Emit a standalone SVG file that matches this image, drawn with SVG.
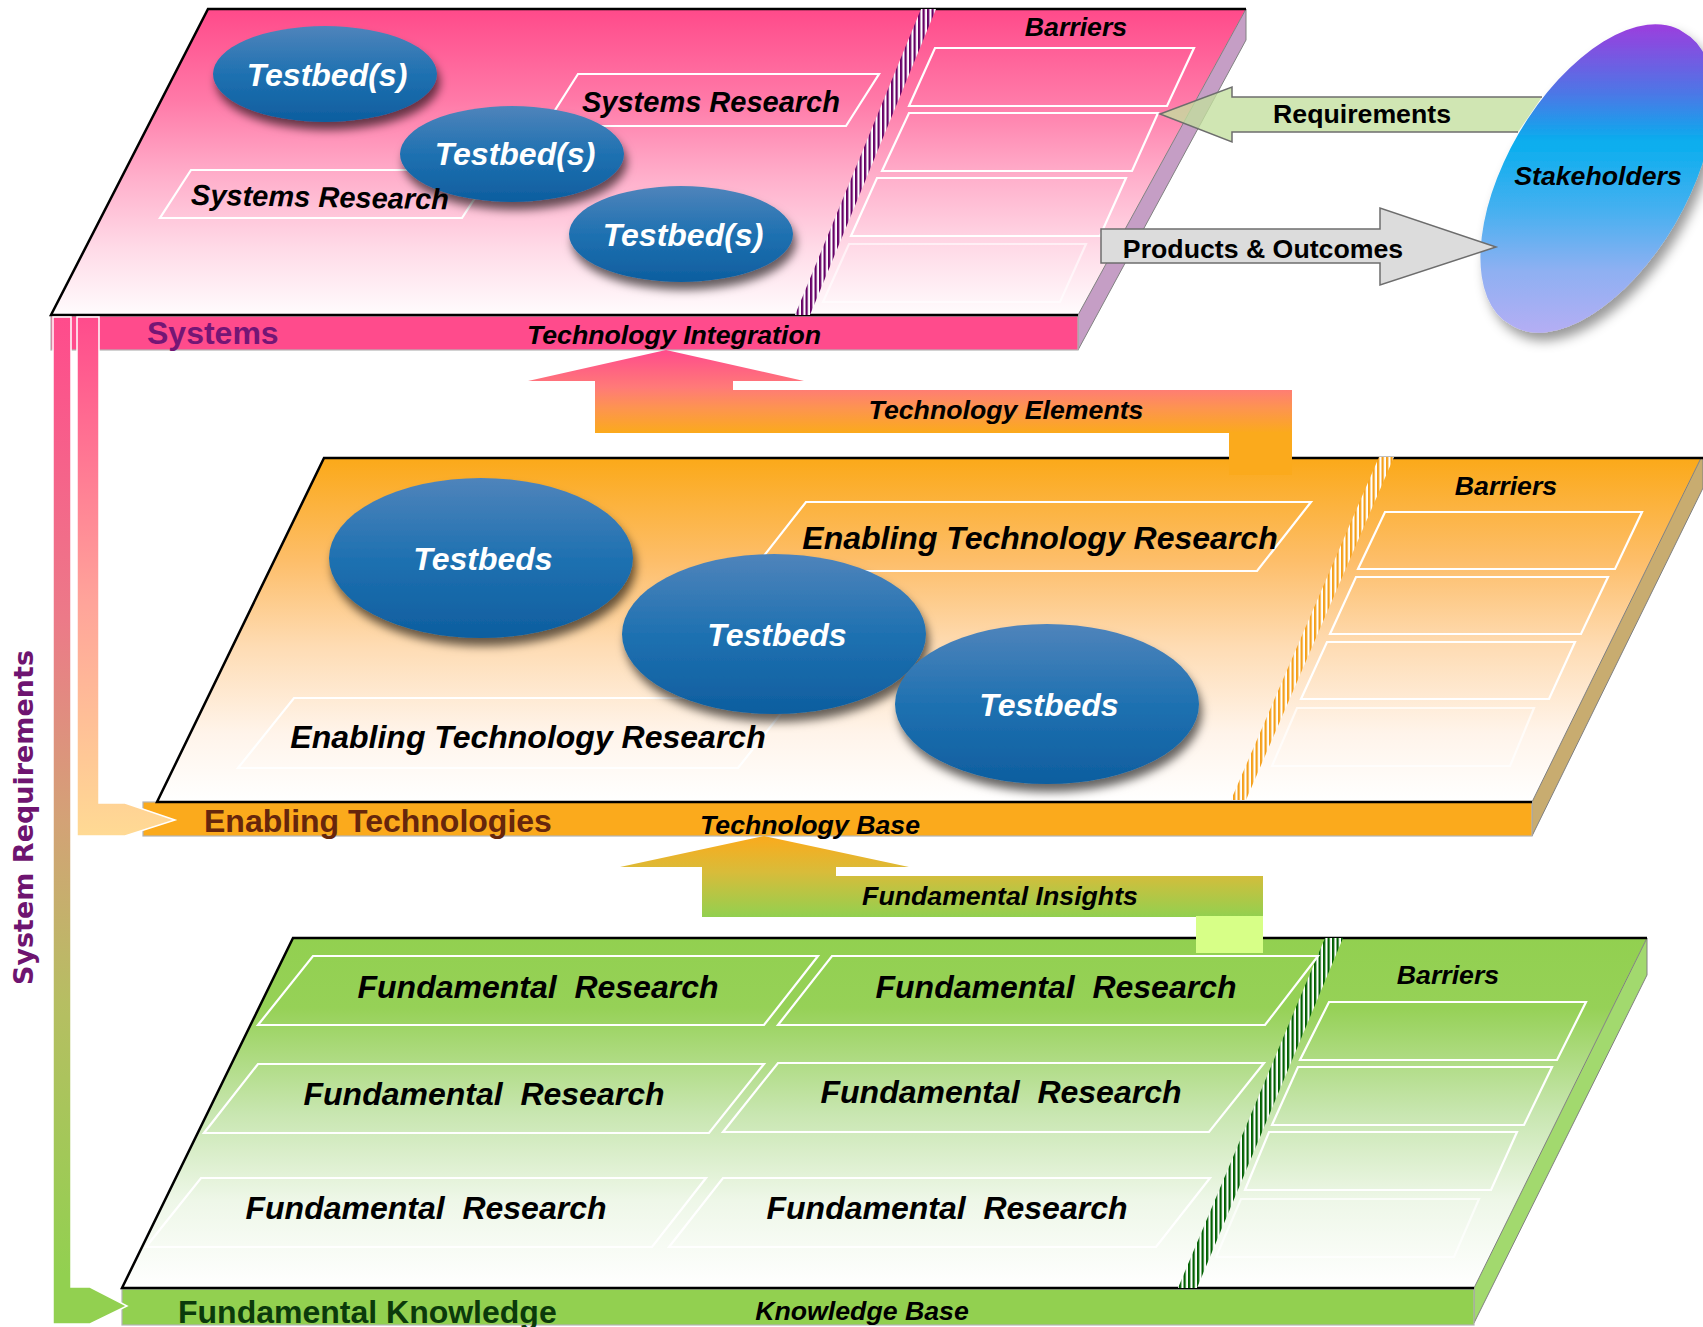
<svg xmlns="http://www.w3.org/2000/svg" width="1703" height="1327" viewBox="0 0 1703 1327">
<defs>
<style>
text{font-family:"Liberation Sans",Arial,Helvetica,sans-serif;font-weight:bold;fill:#000}
.i{font-style:italic}
.m{text-anchor:middle}
.f26{font-size:26.7px}
.f29{font-size:29px}
.f32{font-size:32px}
text.wt{fill:#fff}
.edge{fill:none;stroke:#000;stroke-width:2.5}
.side{stroke:#808080;stroke-width:1}
.bar{stroke:#b4b4b4;stroke-width:1.2}
.box{fill:none;stroke:#fff;stroke-width:2.2}
.tb{fill:url(#gTB);filter:url(#sh)}
.arr{stroke:#6d6d6d;stroke-width:1.5}
.lw{stroke:#fff;stroke-width:1.5}
</style>
<linearGradient id="gPink" gradientUnits="userSpaceOnUse" x1="0" y1="9" x2="0" y2="315">
<stop offset="0" stop-color="#FF4A8A"/><stop offset="0.3" stop-color="#FF7AA8"/><stop offset="0.55" stop-color="#FFAFCB"/><stop offset="0.78" stop-color="#FFDAE7"/><stop offset="1" stop-color="#FFFCFD"/>
</linearGradient>
<linearGradient id="gOrange" gradientUnits="userSpaceOnUse" x1="0" y1="458" x2="0" y2="802">
<stop offset="0" stop-color="#FBA919"/><stop offset="0.3" stop-color="#FDBE6A"/><stop offset="0.55" stop-color="#FEDCB4"/><stop offset="0.8" stop-color="#FFF4EA"/><stop offset="1" stop-color="#FFFFFF"/>
</linearGradient>
<linearGradient id="gGreen" gradientUnits="userSpaceOnUse" x1="0" y1="938" x2="0" y2="1288">
<stop offset="0" stop-color="#92D050"/><stop offset="0.2" stop-color="#96D157"/><stop offset="0.5" stop-color="#C8E6B0"/><stop offset="0.75" stop-color="#EEF7E8"/><stop offset="1" stop-color="#FFFFFF"/>
</linearGradient>
<linearGradient id="gTB" x1="0" y1="0" x2="0" y2="1">
<stop offset="0" stop-color="#4F84BB"/><stop offset="0.5" stop-color="#1F71B1"/><stop offset="1" stop-color="#0E5E9F"/>
</linearGradient>
<linearGradient id="gStake" gradientUnits="userSpaceOnUse" x1="0" y1="25" x2="0" y2="332">
<stop offset="0" stop-color="#9B3EDE"/><stop offset="0.22" stop-color="#4D76E6"/><stop offset="0.38" stop-color="#08AEEE"/><stop offset="0.6" stop-color="#45B0F0"/><stop offset="0.8" stop-color="#8EB0F2"/><stop offset="1" stop-color="#B4AEF4"/>
</linearGradient>
<linearGradient id="gTE" gradientUnits="userSpaceOnUse" x1="0" y1="350" x2="0" y2="433">
<stop offset="0" stop-color="#FF4B8C"/><stop offset="0.45" stop-color="#FF7A78"/><stop offset="0.7" stop-color="#FD9450"/><stop offset="1" stop-color="#FBAA1C"/>
</linearGradient>
<linearGradient id="gFI" gradientUnits="userSpaceOnUse" x1="0" y1="836" x2="0" y2="917">
<stop offset="0" stop-color="#FBAA1C"/><stop offset="0.45" stop-color="#D8BC3A"/><stop offset="1" stop-color="#92D050"/>
</linearGradient>
<linearGradient id="gIn" gradientUnits="userSpaceOnUse" x1="0" y1="317" x2="0" y2="836">
<stop offset="0" stop-color="#FF4B8C"/><stop offset="0.55" stop-color="#FFA49A"/><stop offset="1" stop-color="#FFDA94"/>
</linearGradient>
<linearGradient id="gOut" gradientUnits="userSpaceOnUse" x1="0" y1="317" x2="0" y2="1325">
<stop offset="0" stop-color="#FF4B8C"/><stop offset="0.3" stop-color="#EC7A88"/><stop offset="0.5" stop-color="#D3A276"/><stop offset="0.68" stop-color="#B6BE62"/><stop offset="0.95" stop-color="#92D050"/><stop offset="1" stop-color="#92D050"/>
</linearGradient>
<pattern id="hP" patternUnits="userSpaceOnUse" width="4.5" height="20"><rect width="4.5" height="20" fill="#fff"/><rect width="2.3" height="20" fill="#660066"/></pattern>
<pattern id="hO" patternUnits="userSpaceOnUse" width="4.5" height="20"><rect width="4.5" height="20" fill="#fff"/><rect width="2.3" height="20" fill="#F5A01A"/></pattern>
<pattern id="hG" patternUnits="userSpaceOnUse" width="4.5" height="20"><rect width="4.5" height="20" fill="#fff"/><rect width="2.3" height="20" fill="#006000"/></pattern>
<filter id="sh" x="-20%" y="-20%" width="150%" height="160%"><feDropShadow dx="3" dy="8" stdDeviation="5" flood-color="#000" flood-opacity="0.6"/></filter>
<filter id="sh2" x="-20%" y="-20%" width="150%" height="150%"><feDropShadow dx="5" dy="8" stdDeviation="6" flood-color="#000" flood-opacity="0.4"/></filter>
</defs>
<rect width="1703" height="1327" fill="#fff"/>

<g id="systems">
<polygon points="208,9 1246,9 1078,315 51,315" fill="url(#gPink)"/>
<polygon class="side" points="1246,9 1246,40 1078,350 1078,315" fill="#C59EC5"/>
<rect class="bar" x="51" y="316" width="1027" height="34" fill="#FF4B8C"/>
<polyline class="edge" points="1246,9 208,9 51,315 1078,315"/>
<polygon points="921,9 936,9 810,315 795,315" fill="url(#hP)"/>
<g id="sys-barriers">
<polygon class="box" points="935,48 1194,48 1167,106 909,106"/>
<polygon class="box" points="909,113 1158,113 1132,171 882,171"/>
<polygon class="box" points="877,178 1126,178 1100,236 851,236"/>
<polygon class="box" points="849,244 1086,244 1060,302 823,302" stroke-opacity="0.6"/>
</g>
<polygon class="box" points="578,74 879,74 846,126 545,126"/>
<polygon class="box" points="191,170 493,170 462,218 160,218"/>
<g id="sys-testbed1"><ellipse class="tb" cx="325" cy="74" rx="112" ry="48"/></g>
<g id="sys-testbed2"><ellipse class="tb" cx="512" cy="154" rx="112" ry="48"/></g>
<g id="sys-testbed3"><ellipse class="tb" cx="681" cy="234" rx="112" ry="48"/></g>
<text class="i m f26" x="1076" y="36">Barriers</text>
<text class="i m f32 wt" x="327" y="86">Testbed(s)</text>
<text class="i m f32 wt" x="515" y="165">Testbed(s)</text>
<text class="i m f32 wt" x="683" y="246">Testbed(s)</text>
<text class="i m f29" x="711" y="112">Systems Research</text>
<text class="i m f29" x="320" y="207" transform="rotate(1 320 197)">Systems Research</text>
<text class="f32" x="147" y="344" style="fill:#741675">Systems</text>
<text class="i m f26" x="674" y="344">Technology Integration</text>
</g>

<g id="enabling">
<polygon points="324,458 1701,458 1532,802 157,802" fill="url(#gOrange)"/>
<polygon class="side" points="1701,458 1703,458 1703,488 1532,836 1532,802" fill="#C8AC70"/>
<rect class="bar" x="143" y="802" width="1389" height="34" fill="#FBAA1C"/>
<polyline class="edge" points="1703,458 324,458 157,802 1532,802"/>
<polygon points="1379,457 1394,457 1246,800 1231,800" fill="url(#hO)"/>
<g id="en-barriers">
<polygon class="box" points="1385,512 1642,512 1615,569 1358,569"/>
<polygon class="box" points="1356,577 1608,577 1581,634 1330,634"/>
<polygon class="box" points="1327,642 1575,642 1549,699 1301,699"/>
<polygon class="box" points="1297,708 1534,708 1510,766 1272,766" stroke-opacity="0.7"/>
</g>
<polygon class="box" points="806,502 1311,502 1257,571 752,571"/>
<polygon class="box" points="294,698 793,698 738,768 238,768"/>
<g id="en-testbed1"><ellipse class="tb" cx="481" cy="558" rx="152" ry="80"/></g>
<g id="en-testbed2"><ellipse class="tb" cx="774" cy="634" rx="152" ry="80"/></g>
<g id="en-testbed3"><ellipse class="tb" cx="1047" cy="704" rx="152" ry="80"/></g>
<text class="i m f26" x="1506" y="495">Barriers</text>
<text class="i m f32" x="1040" y="549">Enabling Technology Research</text>
<text class="i m f32" x="528" y="748">Enabling Technology Research</text>
<text class="i m f32 wt" x="483" y="570">Testbeds</text>
<text class="i m f32 wt" x="777" y="646">Testbeds</text>
<text class="i m f32 wt" x="1049" y="716">Testbeds</text>
<text class="f32" x="204" y="832" style="fill:#66260C">Enabling Technologies</text>
<text class="i m f26" x="810" y="834">Technology Base</text>
</g>

<g id="fundamental">
<polygon points="293,938 1647,938 1474,1288 122,1288" fill="url(#gGreen)"/>
<polygon class="side" points="1647,938 1647,975 1474,1323 1474,1288" fill="#A2D96E"/>
<rect class="bar" x="122" y="1289" width="1352" height="36" fill="#92D050"/>
<polyline class="edge" points="1647,938 293,938 122,1288 1474,1288"/>
<polygon points="1325,938 1343,938 1197,1288 1178,1288" fill="url(#hG)"/>
<g id="fu-barriers">
<polygon class="box" points="1329,1002 1586,1002 1557,1060 1300,1060"/>
<polygon class="box" points="1298,1067 1552,1067 1524,1125 1272,1125"/>
<polygon class="box" points="1269,1132 1517,1132 1491,1190 1245,1190"/>
<polygon class="box" points="1241,1199 1479,1199 1454,1257 1216,1257" stroke-opacity="0.7"/>
</g>
<g id="fu-research">
<polygon class="box" points="313,956 818,956 764,1025 258,1025"/>
<polygon class="box" points="832,956 1318,956 1265,1025 778,1025"/>
<polygon class="box" points="258,1064 764,1064 709,1133 204,1133"/>
<polygon class="box" points="778,1063 1264,1063 1209,1132 723,1132"/>
<polygon class="box" points="201,1178 706,1178 652,1247 146,1247"/>
<polygon class="box" points="723,1178 1210,1178 1156,1247 669,1247"/>
</g>
<text class="i m f26" x="1448" y="984">Barriers</text>
<text class="i m f32" x="538" y="998" xml:space="preserve">Fundamental  Research</text>
<text class="i m f32" x="1056" y="998" xml:space="preserve">Fundamental  Research</text>
<text class="i m f32" x="484" y="1105" xml:space="preserve">Fundamental  Research</text>
<text class="i m f32" x="1001" y="1103" xml:space="preserve">Fundamental  Research</text>
<text class="i m f32" x="426" y="1219" xml:space="preserve">Fundamental  Research</text>
<text class="i m f32" x="947" y="1219" xml:space="preserve">Fundamental  Research</text>
<text class="f32" x="178" y="1323" style="fill:#0B3A0B">Fundamental Knowledge</text>
<text class="i m f26" x="862" y="1320">Knowledge Base</text>
</g>

<g id="stakeholders">
<path d="M1683,31.9 A88.5,170 30.4 1 1 1511,325.1 A88.5,170 30.4 1 1 1683,31.9 Z" fill="url(#gStake)" filter="url(#sh2)"/>
<text class="i m f26" x="1598" y="185">Stakeholders</text>
</g>

<g id="connectors">
<g id="technology-elements">
<polygon points="666,350 804,381 733,381 733,390 1292,390 1292,433 595,433 595,381 528,381" fill="url(#gTE)"/>
<rect x="1229" y="432" width="63" height="43" fill="#FBAA1C"/>
<text class="i m f26" x="1006" y="419">Technology Elements</text>
</g>
<g id="fundamental-insights">
<polygon points="764,836 909,867 836,867 836,876 1263,876 1263,917 702,917 702,867 620,867" fill="url(#gFI)"/>
<rect x="1196" y="916" width="67" height="37" fill="#D7FF87"/>
<text class="i m f26" x="1000" y="905">Fundamental Insights</text>
</g>
<g id="requirements">
<path d="M1542,97 L1232,97 L1232,87 L1160,114 L1232,142 L1232,132 L1518,132 Z" fill="#C3DF9E" fill-opacity="0.78"/>
<path class="arr" fill="none" d="M1542,97 L1232,97 L1232,87 L1160,114 L1232,142 L1232,132 L1518,132"/>
<text class="m f26" x="1362" y="123">Requirements</text>
</g>
<g id="products-outcomes">
<polygon class="arr" points="1101,229 1380,229 1380,208 1496,247 1380,285 1380,263 1101,263" fill="#DCDCDC"/>
<text class="m f26" x="1263" y="258">Products &amp; Outcomes</text>
</g>
<g id="system-requirements">
<path class="lw" d="M53,317 L71,317 L71,1287 L90,1287 L127,1306 L90,1324 L53,1324 Z" fill="url(#gOut)"/>
<path class="lw" d="M77,317 L99,317 L99,803 L125,803 L175,820 L125,836 L77,836 Z" fill="url(#gIn)"/>
<text transform="translate(33 817.5) rotate(-90)" x="0" y="0" style="font-family:'DejaVu Sans',Verdana,sans-serif;font-size:27px;fill:#6E1470;text-anchor:middle">System Requirements</text>
</g>
</g>
</svg>
